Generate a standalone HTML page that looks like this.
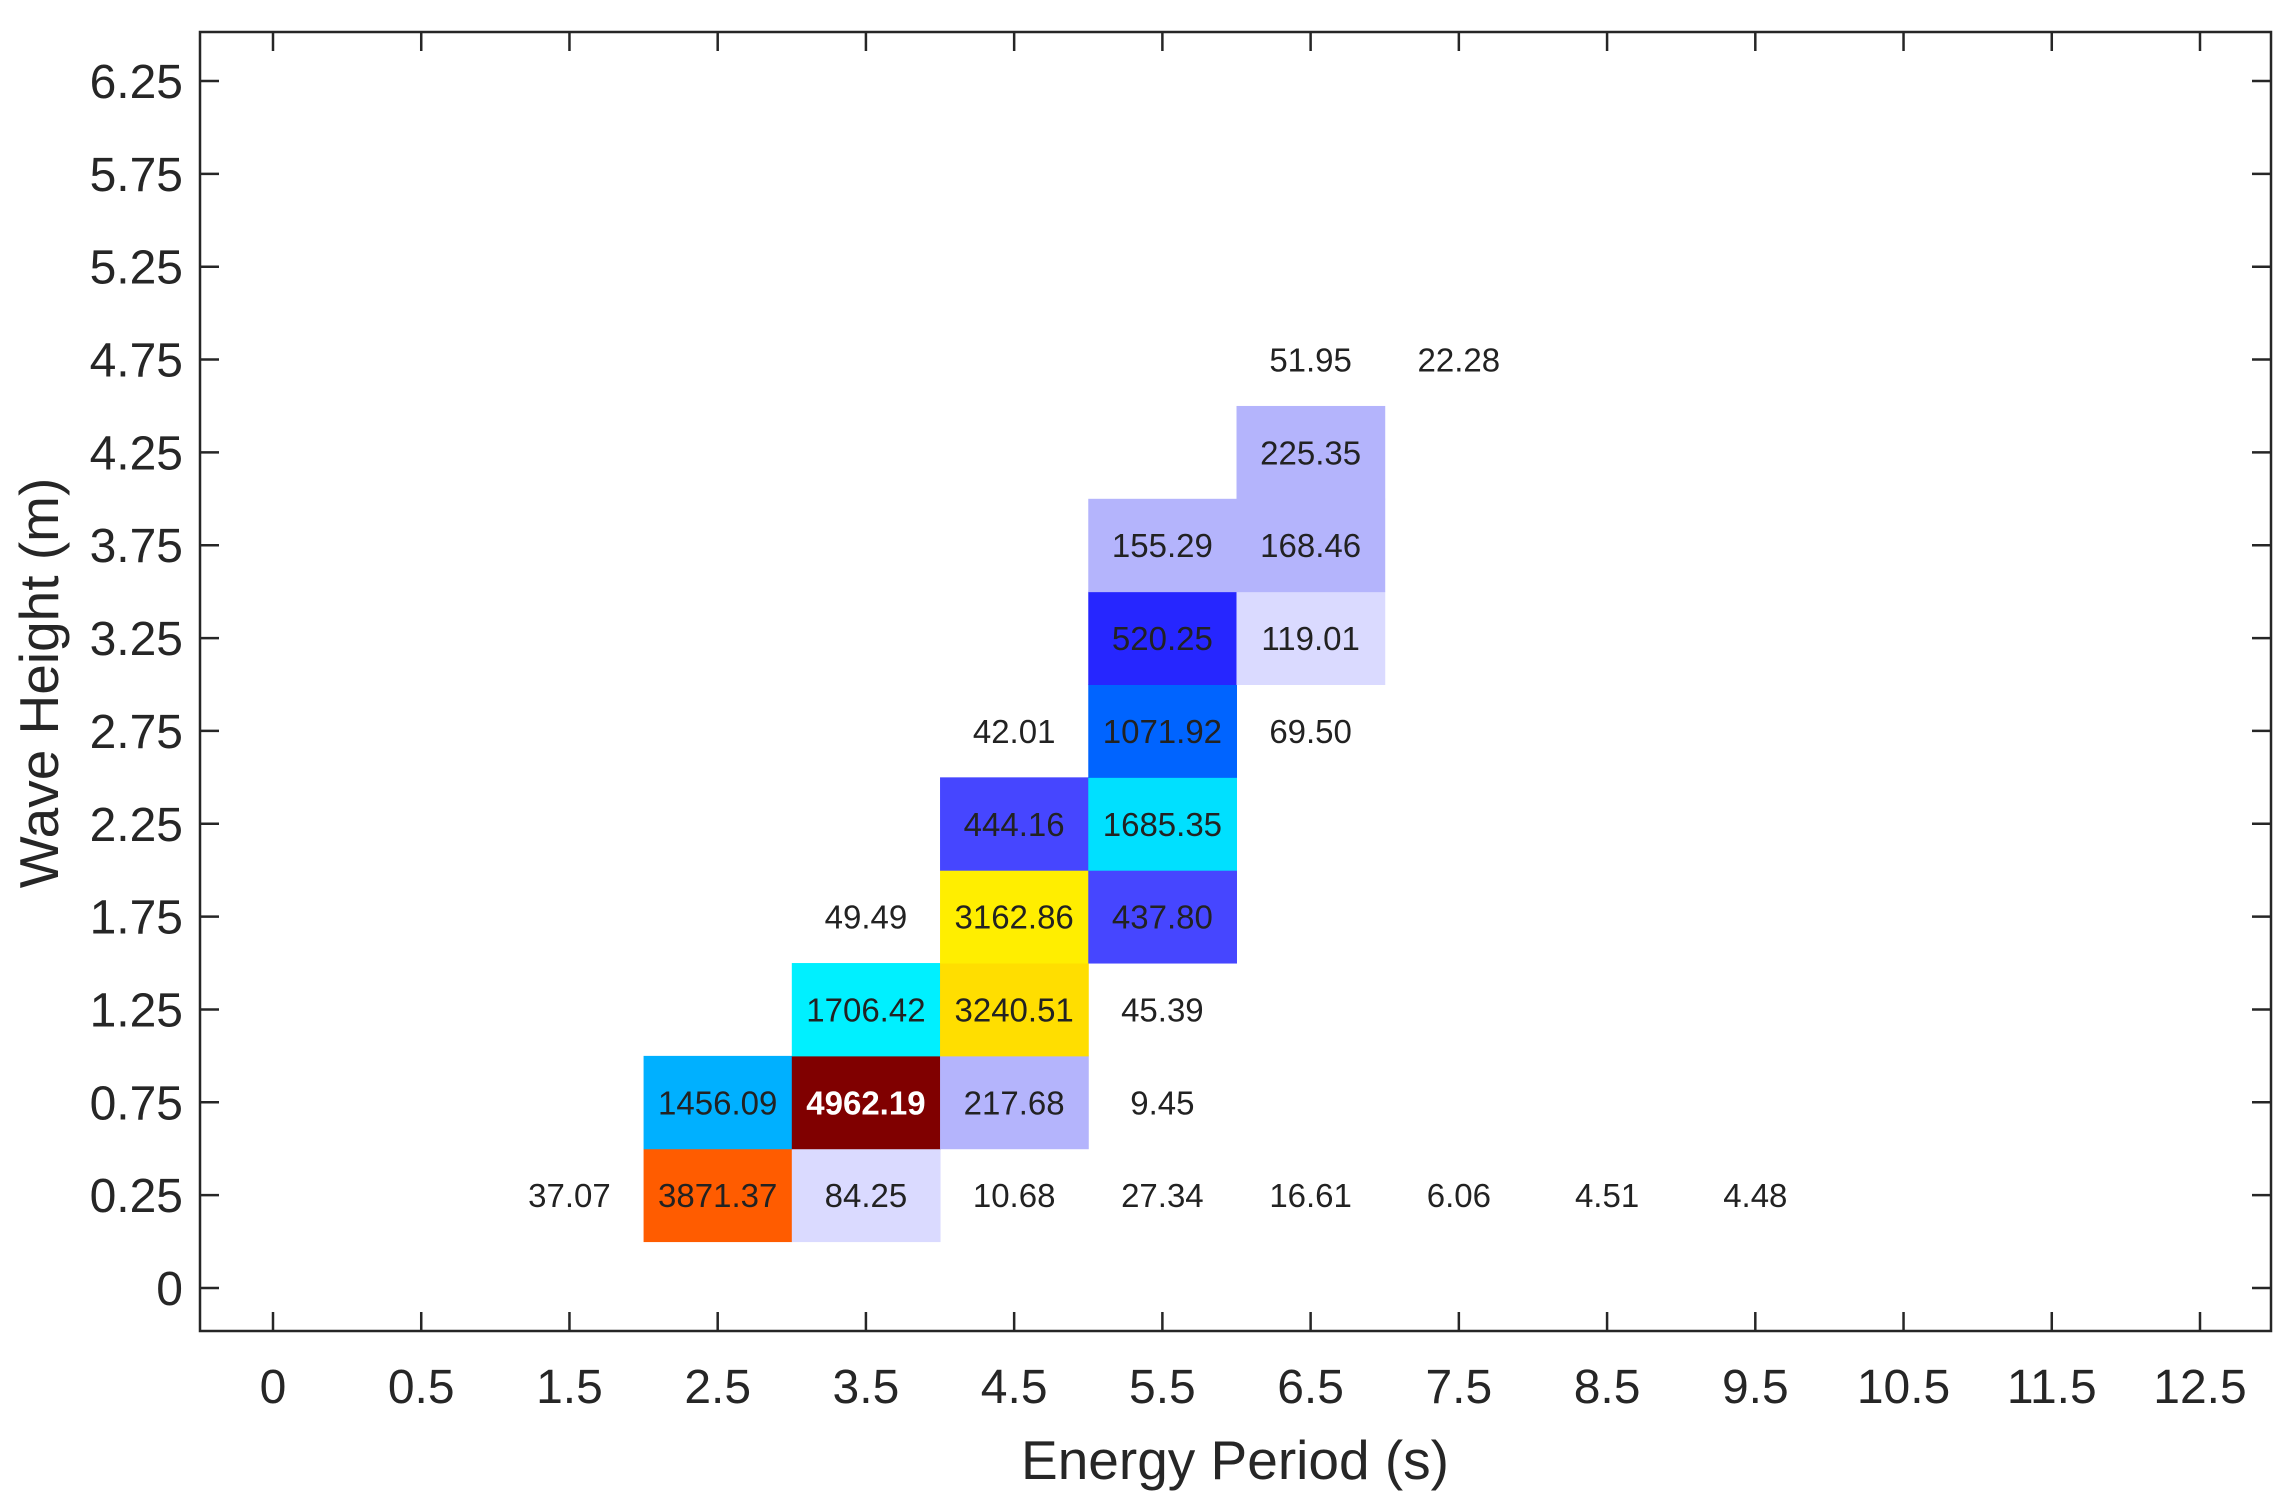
<!DOCTYPE html>
<html><head><meta charset="utf-8"><style>
html,body{margin:0;padding:0;background:#fff;}
svg text{font-family:"Liberation Sans",Arial,sans-serif;}
</style></head><body>
<svg id="chart" width="2287" height="1507" viewBox="0 0 2287 1507" xmlns="http://www.w3.org/2000/svg">
<rect x="0" y="0" width="2287" height="1507" fill="#fff"/>
<g id="cells"></g>
<g id="labels"></g>
<g id="axes"></g>
<text x="1235" y="1479" font-size="55" text-anchor="middle" fill="#262626">Energy Period (s)</text>
<text transform="translate(58,683) rotate(-90)" font-size="55" text-anchor="middle" fill="#262626">Wave Height (m)</text>
</svg>
<script>
const xCategories = ["0","0.5","1.5","2.5","3.5","4.5","5.5","6.5","7.5","8.5","9.5","10.5","11.5","12.5"];
const yCategories = ["0","0.25","0.75","1.25","1.75","2.25","2.75","3.25","3.75","4.25","4.75","5.25","5.75","6.25"];
const cellX = ["1.5","2.5","3.5","4.5","5.5","6.5","7.5","8.5","9.5",
  "2.5","3.5","4.5","5.5",
  "3.5","4.5","5.5",
  "3.5","4.5","5.5",
  "4.5","5.5",
  "4.5","5.5","6.5",
  "5.5","6.5",
  "5.5","6.5",
  "6.5",
  "6.5","7.5"];
const cellY = ["0.25","0.25","0.25","0.25","0.25","0.25","0.25","0.25","0.25",
  "0.75","0.75","0.75","0.75",
  "1.25","1.25","1.25",
  "1.75","1.75","1.75",
  "2.25","2.25",
  "2.75","2.75","2.75",
  "3.25","3.25",
  "3.75","3.75",
  "4.25",
  "4.75","4.75"];
const cellValues = [37.07,3871.37,84.25,10.68,27.34,16.61,6.06,4.51,4.48,
  1456.09,4962.19,217.68,9.45,
  1706.42,3240.51,45.39,
  49.49,3162.86,437.80,
  444.16,1685.35,
  42.01,1071.92,69.50,
  520.25,119.01,
  155.29,168.46,
  225.35,
  51.95,22.28];

const L=200,R=2271,T=32,B=1331;
const x0=273, dx=(2200-273)/13;
const y0=1288, dy=(1288-81)/13;
function xPos(cat){return x0+xCategories.indexOf(cat)*dx;}
function yPos(cat){return y0-yCategories.indexOf(cat)*dy;}
function colorFor(v){
  if(v<70) return null;
  if(v<150) return "#dadaff";
  if(v<400) return "#b4b4fc";
  if(v<500) return "#4646ff";
  if(v<800) return "#2626ff";
  if(v<1300) return "#0064ff";
  if(v<1600) return "#00b0ff";
  if(v<1700) return "#00e0ff";
  if(v<2500) return "#00f0ff";
  if(v<3200) return "#ffee00";
  if(v<3500) return "#ffde00";
  if(v<4500) return "#ff5c00";
  return "#800000";
}
const NS="http://www.w3.org/2000/svg";
const cells=document.getElementById('cells'), labels=document.getElementById('labels'), axes=document.getElementById('axes');
function mk(tag,attrs,parent){const e=document.createElementNS(NS,tag);for(const k in attrs)e.setAttribute(k,attrs[k]);parent.appendChild(e);return e;}
cellValues.forEach((v,i)=>{
  const cx=xPos(cellX[i]), cy=yPos(cellY[i]);
  const c=colorFor(v);
  if(c){
    const r=mk('rect',{x:cx-dx/2,y:cy-dy/2,width:dx+0.5,height:dy+0.5,fill:c},cells);
    
    
  }
  const t=mk('text',{x:cx,y:cy+12,'font-size':33,'text-anchor':'middle',fill:v>4500?'#fff':'#222','font-weight':v>4500?'bold':'normal'},labels);
  t.textContent=v.toFixed(2);
  
  
});
const box=mk('rect',{x:L,y:T,width:R-L,height:B-T,fill:'none',stroke:'#262626','stroke-width':2.5},axes);


xCategories.forEach((c,i)=>{
  const x=xPos(c);
  const t1=mk('line',{x1:x,x2:x,y1:B,y2:B-19,stroke:'#262626','stroke-width':2.5},axes);
  
  
  const t2=mk('line',{x1:x,x2:x,y1:T,y2:T+19,stroke:'#262626','stroke-width':2.5},axes);
  
  
  const lb=mk('text',{x:x,y:1403,'font-size':48,'text-anchor':'middle',fill:'#262626'},axes);
  lb.textContent=c;
  
  
});
yCategories.forEach((c,i)=>{
  const y=yPos(c);
  const t1=mk('line',{x1:L,x2:L+19,y1:y,y2:y,stroke:'#262626','stroke-width':2.5},axes);
  
  
  const t2=mk('line',{x1:R,x2:R-19,y1:y,y2:y,stroke:'#262626','stroke-width':2.5},axes);
  
  
  const lb=mk('text',{x:183,y:y+17,'font-size':48,'text-anchor':'end',fill:'#262626'},axes);
  lb.textContent=c;
  
  
});
</script>
</body></html>
